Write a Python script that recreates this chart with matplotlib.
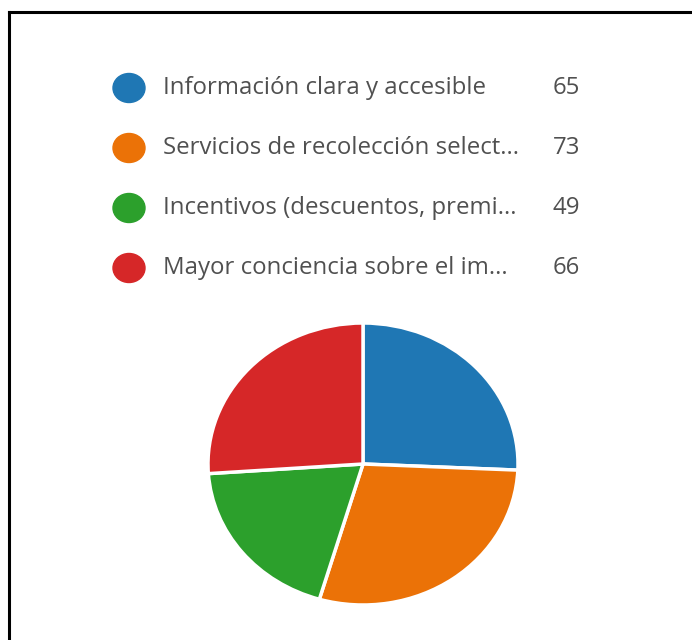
import matplotlib
matplotlib.use("Agg")
from matplotlib import pyplot as plt
from matplotlib.patches import Ellipse

# data
labels = ["Información clara y accesible",
          "Servicios de recolección select...",
          "Incentivos (descuentos, premi...",
          "Mayor conciencia sobre el im..."]
values = [65, 73, 49, 66]
colors = ["#1f77b4", "#eb7207", "#2ca02c", "#d62728"]

plt.rcParams['font.family'] = ['Open Sans', 'DejaVu Sans']

W, H = 692, 640
fig = plt.figure(figsize=(W / 100, H / 100), dpi=100)
fig.patch.set_facecolor("white")

# frame lines (top and left only)
fig.add_artist(plt.Line2D([9 / W, 9 / W], [0, 1 - 12 / H], color="black", lw=2.2, transform=fig.transFigure))
fig.add_artist(plt.Line2D([9 / W, 1], [1 - 12 / H, 1 - 12 / H], color="black", lw=2.2, transform=fig.transFigure))

# legend rows
row_y = [88, 148, 208, 268]
for lab, val, col, y in zip(labels, values, colors, row_y):
    fy = 1 - y / H
    fig.add_artist(Ellipse((129 / W, fy), 32 / W, 29 / H, color=col, transform=fig.transFigure))
    fig.text(163 / W, fy, lab, fontsize=17.3, color="#505050", va="center", ha="left")
    fig.text(580 / W, fy, str(val), fontsize=17.3, color="#505050", va="center", ha="right")

# pie, slightly squashed vertically
pad = 1.05
cx, cy, rx, ry = 363, 464, 155, 141
ax = fig.add_axes([(cx - rx * pad) / W, 1 - (cy + ry * pad) / H, 2 * rx * pad / W, 2 * ry * pad / H])
ax.pie(values, colors=colors, startangle=90, counterclock=False,
       wedgeprops=dict(edgecolor="white", linewidth=2.5))
ax.set_aspect("auto")
ax.set_xlim(-pad, pad)
ax.set_ylim(-pad, pad)
ax.axis("off")

fig.savefig("out.png", dpi=100, facecolor="white")
